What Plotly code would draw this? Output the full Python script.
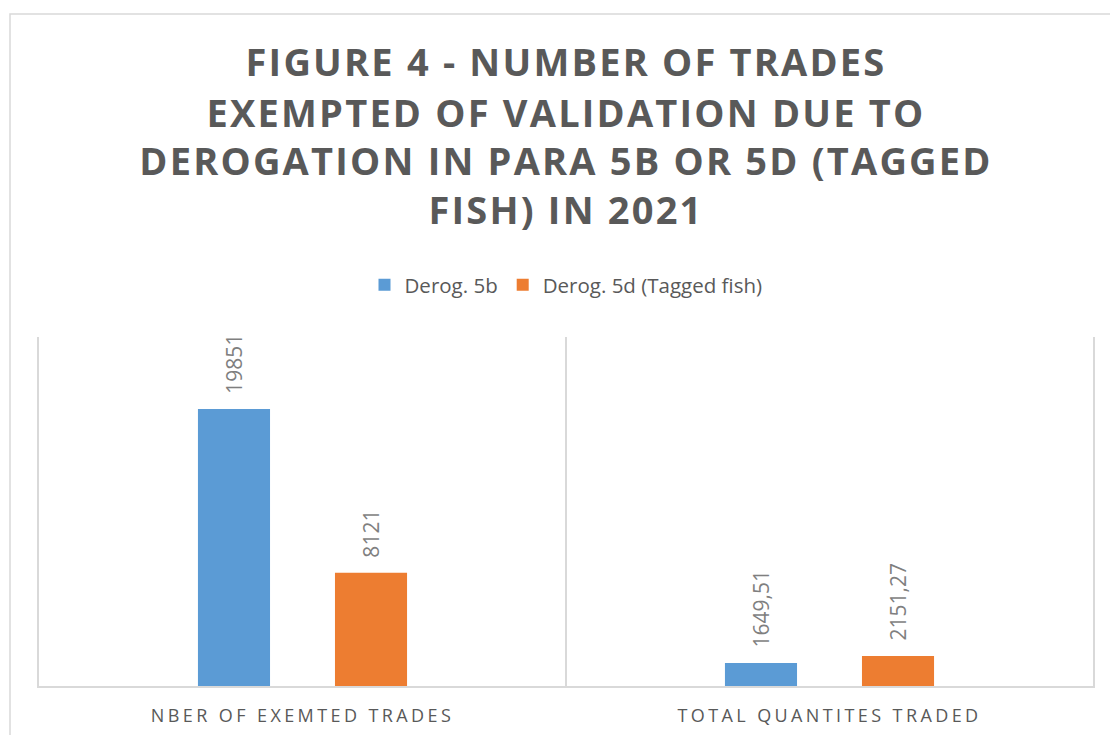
import plotly.graph_objects as go

categories = ["NBER OF EXEMTED TRADES", "TOTAL QUANTITES TRADED"]
series_names = ["Derog. 5b", "Derog. 5d (Tagged fish)"]
derog_5b = [19851, 1649.51]
derog_5d = [8121, 2151.27]
labels_5b = ["19851", "1649,51"]
labels_5d = ["8121", "2151,27"]
colors = ["#5B9BD5", "#ED7D31"]

title_text = ("FIGURE 4 - NUMBER OF TRADES<br>EXEMPTED OF VALIDATION DUE TO<br>"
              "DEROGATION IN PARA 5B OR 5D (TAGGED<br>FISH) IN 2021")

W, H = 1110, 735
L, R, T, B = 39, 17, 337, 49
pw = W - L - R

fig = go.Figure()
fig.add_trace(go.Bar(x=categories, y=derog_5b, name=series_names[0],
                     marker=dict(color=colors[0], line=dict(width=0))))
fig.add_trace(go.Bar(x=categories, y=derog_5d, name=series_names[1],
                     marker=dict(color=colors[1], line=dict(width=0))))

# data labels (rotated) above bars
slot_half = 68.5
for vals, labs, sh in [(derog_5b, labels_5b, -slot_half), (derog_5d, labels_5d, slot_half)]:
    for c, v, t in zip(categories, vals, labs):
        fig.add_annotation(x=c, y=v, text=t, showarrow=False, textangle=-90,
                           xanchor="center", yanchor="bottom", xshift=sh, yshift=13,
                           font=dict(family="Open Sans", size=21, color="#7F7F7F"))

def px_x(p):
    return (p - L) / pw
def px_y(p):
    return (H - B - p) / (H - T - B)

# outer chart border
fig.add_shape(type="rect", xref="paper", yref="paper",
              x0=px_x(10), x1=px_x(1125), y0=px_y(750), y1=px_y(14),
              line=dict(color="#D9D9D9", width=1.5), fillcolor="rgba(0,0,0,0)", layer="below")

fig.update_layout(
    width=W, height=H,
    margin=dict(l=L, r=R, t=T, b=B, pad=0, autoexpand=False),
    paper_bgcolor="white", plot_bgcolor="white",
    barmode="group", bargap=0.48, bargroupgap=0.474,
    title=dict(text=title_text, x=0.5, xref="paper", xanchor="center",
               y=1 - 76 / H, yref="container", yanchor="top",
               font=dict(family="Open Sans", size=38, color="#595959", weight="bold")),
    legend=dict(orientation="h", x=0.5, xanchor="center", y=px_y(285), yanchor="middle",
                font=dict(family="Open Sans", size=20.5, color="#595959"),
                itemclick=False, traceorder="normal"),
    xaxis=dict(showline=True, linecolor="#D9D9D9", linewidth=2, automargin=False,
               showgrid=True, gridcolor="#D9D9D9", gridwidth=1.5, tickson="boundaries",
               ticks="", range=[-0.5, 1.5], fixedrange=True, ticklabelstandoff=12,
               tickfont=dict(family="Open Sans", size=18, color="#595959")),
    yaxis=dict(range=[0, 25000], showgrid=False, showticklabels=False, zeroline=False,
               automargin=False,
               showline=True, mirror=True, linecolor="#D9D9D9", linewidth=1.5, ticks=""),
)

post = """
document.body.style.margin = '0';
var gd = document.getElementById('{plot_id}');
function ls(){
  gd.querySelectorAll('.gtitle').forEach(function(e){ e.style.letterSpacing='2.2px'; });
  gd.querySelectorAll('.gtitle tspan.line').forEach(function(t){
    var dy = t.getAttribute('dy');
    if (dy && dy.indexOf('1.3em') === 0) { t.setAttribute('dy', '1.355em'); }
  });
  gd.querySelectorAll('.xtick text').forEach(function(e){ e.style.letterSpacing='3.4px'; });
}
ls();
gd.on('plotly_afterplot', ls);
"""

fig.write_html("out.html", post_script=post, config={"displayModeBar": False})
